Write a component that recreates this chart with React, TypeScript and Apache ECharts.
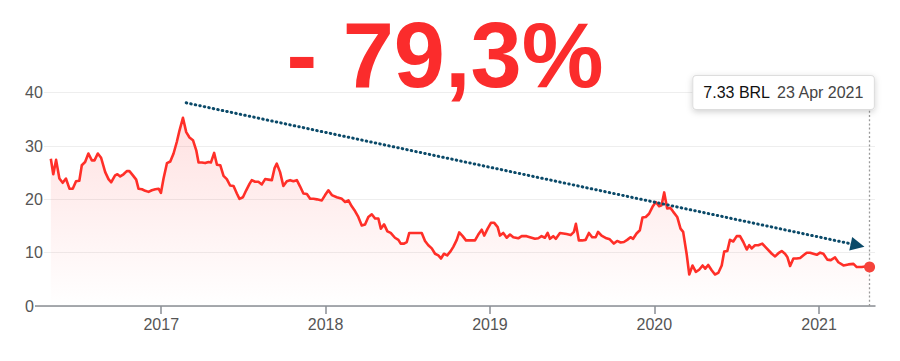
import React, { useEffect, useRef } from "react";
import * as echarts from "echarts";

// x positions as decimal years
const years = [
  2016.330, 2016.345, 2016.362, 2016.382, 2016.402, 2016.422, 2016.443, 2016.463, 2016.483, 2016.503,
  2016.518, 2016.538, 2016.558, 2016.579, 2016.595, 2016.615, 2016.635, 2016.660, 2016.680, 2016.696,
  2016.720, 2016.734, 2016.751, 2016.771, 2016.791, 2016.807, 2016.828, 2016.848, 2016.862, 2016.883,
  2016.903, 2016.923, 2016.943, 2016.964, 2016.984, 2016.998, 2017.014, 2017.035, 2017.055, 2017.075,
  2017.095, 2017.111, 2017.132, 2017.152, 2017.172, 2017.193, 2017.213, 2017.227, 2017.247, 2017.267,
  2017.288, 2017.302, 2017.322, 2017.339, 2017.359, 2017.379, 2017.399, 2017.419, 2017.440, 2017.460,
  2017.476, 2017.497, 2017.517, 2017.537, 2017.551, 2017.571, 2017.591, 2017.612, 2017.632, 2017.652,
  2017.673, 2017.689, 2017.703, 2017.723, 2017.743, 2017.764, 2017.784, 2017.804, 2017.825, 2017.845,
  2017.865, 2017.886, 2017.906, 2017.926, 2017.947, 2017.977, 2017.997, 2018.017, 2018.038, 2018.068,
  2018.099, 2018.119, 2018.139, 2018.159, 2018.179, 2018.199, 2018.220, 2018.240, 2018.260, 2018.281,
  2018.301, 2018.321, 2018.336, 2018.356, 2018.376, 2018.396, 2018.422, 2018.443, 2018.457, 2018.477,
  2018.494, 2018.509, 2018.534, 2018.554, 2018.585, 2018.605, 2018.625, 2018.646, 2018.666, 2018.686,
  2018.702, 2018.720, 2018.740, 2018.761, 2018.777, 2018.798, 2018.813, 2018.834, 2018.854, 2018.878,
  2018.909, 2018.929, 2018.950, 2018.965, 2018.986, 2019.006, 2019.026, 2019.047, 2019.061, 2019.081,
  2019.102, 2019.122, 2019.142, 2019.172, 2019.193, 2019.223, 2019.243, 2019.274, 2019.294, 2019.314,
  2019.334, 2019.351, 2019.365, 2019.385, 2019.401, 2019.426, 2019.446, 2019.466, 2019.491, 2019.511,
  2019.523, 2019.541, 2019.561, 2019.582, 2019.602, 2019.622, 2019.643, 2019.658, 2019.679, 2019.709,
  2019.729, 2019.754, 2019.774, 2019.795, 2019.815, 2019.835, 2019.855, 2019.871, 2019.892, 2019.912,
  2019.928, 2019.948, 2019.968, 2019.989, 2020.009, 2020.029, 2020.044, 2020.060, 2020.078, 2020.098,
  2020.114, 2020.139, 2020.159, 2020.175, 2020.196, 2020.212, 2020.232, 2020.252, 2020.272, 2020.293,
  2020.309, 2020.327, 2020.348, 2020.368, 2020.388, 2020.409, 2020.424, 2020.443, 2020.459, 2020.479,
  2020.500, 2020.520, 2020.540, 2020.561, 2020.576, 2020.591, 2020.611, 2020.631, 2020.655, 2020.682,
  2020.713, 2020.733, 2020.753, 2020.773, 2020.793, 2020.807, 2020.824, 2020.844, 2020.864, 2020.885,
  2020.905, 2020.925, 2020.945, 2020.965, 2020.986, 2021.006, 2021.026, 2021.050, 2021.071, 2021.097,
  2021.117, 2021.148, 2021.178, 2021.209, 2021.229, 2021.260, 2021.280, 2021.307,
];

// price in BRL
const prices = [
  27.6, 24.7, 27.4, 23.9, 23.1, 23.9, 22.0, 22.0, 23.4, 23.5,
  26.4, 27.0, 28.6, 27.3, 27.3, 28.6, 27.8, 25.1, 23.8, 23.2,
  24.5, 24.7, 24.3, 24.7, 25.3, 25.3, 24.5, 23.7, 22.0, 21.9,
  21.6, 21.4, 21.7, 21.9, 22.0, 21.2, 23.9, 26.8, 27.1, 28.6,
  30.8, 32.9, 35.3, 32.6, 31.6, 31.1, 29.2, 26.9, 26.9, 26.8,
  27.0, 26.9, 28.7, 26.5, 26.4, 24.4, 23.8, 22.6, 22.5, 21.1,
  20.1, 20.4, 21.7, 22.9, 23.6, 23.3, 23.3, 22.8, 23.8, 23.7,
  23.6, 25.8, 26.7, 25.1, 22.5, 23.4, 23.6, 23.4, 23.6, 22.4,
  21.1, 21.0, 20.1, 20.1, 20.0, 19.8, 20.8, 21.7, 20.8, 20.4,
  20.1, 19.5, 19.8, 18.7, 17.8, 16.7, 15.1, 15.3, 16.7, 17.2,
  16.4, 16.4, 14.5, 15.3, 14.0, 13.7, 12.8, 12.4, 11.7, 11.7,
  12.0, 13.7, 13.7, 13.7, 13.7, 12.2, 11.4, 10.8, 9.8, 9.5,
  8.9, 9.8, 9.5, 10.3, 11.1, 12.4, 13.8, 13.1, 12.3, 12.3,
  12.3, 13.4, 14.3, 13.2, 14.5, 15.6, 15.6, 14.8, 13.2, 13.7,
  12.8, 13.4, 12.9, 12.7, 13.1, 13.1, 12.9, 12.6, 12.7, 13.1,
  12.8, 13.7, 12.6, 13.1, 12.6, 13.7, 13.6, 13.5, 13.3, 13.9,
  15.4, 12.3, 12.3, 12.4, 13.7, 12.9, 12.9, 13.9, 13.2, 12.7,
  12.5, 11.7, 12.2, 11.9, 12.0, 12.4, 12.9, 12.6, 13.6, 14.2,
  16.6, 16.7, 17.3, 18.6, 19.5, 18.7, 18.9, 21.3, 18.3, 18.4,
  17.7, 16.7, 14.5, 13.9, 9.8, 5.9, 7.6, 6.4, 6.8, 7.6,
  7.0, 7.7, 6.7, 5.9, 6.2, 7.6, 10.2, 10.3, 12.4, 12.1,
  13.1, 13.1, 12.0, 10.6, 11.4, 10.8, 11.4, 11.4, 11.7, 10.8,
  9.8, 9.3, 9.9, 10.3, 9.8, 9.2, 7.5, 8.9, 8.9, 9.0,
  9.5, 10.0, 10.0, 9.8, 9.6, 10.0, 9.8, 8.7, 8.6, 9.1,
  8.2, 7.6, 7.8, 7.9, 7.3, 7.3, 7.4, 7.33,
];

const yTicks = [0, 10, 20, 30, 40];
const headline = "- 79,3%";
const currency = "BRL";
const lastDateLabel = "23 Apr 2021";
// dotted trend arrow: [decimal year, price] at start and end
const trendStart = [2017.152, 38.1];
const trendEnd = [2021.234, 11.4];
const xRange = [2016.234, 2021.34];

const toTime = (t: number) => {
  const y = Math.floor(t);
  const a = new Date(y, 0, 1).getTime();
  const b = new Date(y + 1, 0, 1).getTime();
  return a + (t - y) * (b - a);
};

const FONT = "'Liberation Sans', Arial, Helvetica, sans-serif";

export default function App() {
  const ref = useRef<HTMLDivElement>(null);

  useEffect(() => {
    document.body.style.margin = "0";
    if (!ref.current) return;
    const chart = echarts.init(ref.current, undefined, { renderer: "svg" });
    const data = years.map((t, i) => [toTime(t), prices[i]]);
    const last = data[data.length - 1];

    chart.setOption({
      animation: false,
      backgroundColor: "#ffffff",
      textStyle: { fontFamily: FONT },
      grid: { left: 35, right: 25, top: 92.7, bottom: 55, containLabel: false },
      graphic: [
        {
          type: "text",
          z: 100,
          style: {
            text: headline,
            x: 445,
            y: 55,
            align: "center",
            verticalAlign: "middle",
            fontSize: 92,
            fontWeight: "bold",
            fontFamily: FONT,
            fill: "#fb2c2c",
          },
        },
      ],
      xAxis: {
        type: "time",
        min: toTime(xRange[0]),
        max: toTime(xRange[1]),
        splitNumber: 5,
        minInterval: 365 * 24 * 3600 * 1000,
        axisLine: { show: true, lineStyle: { color: "#8a8e94", width: 1.5 } },
        axisTick: { show: true, length: 8, lineStyle: { color: "#8a8e94", width: 1.5 } },
        axisLabel: {
          formatter: "{yyyy}",
          color: "#555555",
          fontSize: 16,
          margin: 10,
          fontFamily: FONT,
          hideOverlap: false,
        },
        splitLine: { show: false },
      },
      yAxis: {
        type: "value",
        min: yTicks[0],
        max: yTicks[yTicks.length - 1],
        interval: 10,
        axisLine: { show: false },
        axisTick: { show: false },
        axisLabel: {
          color: "#555555",
          fontSize: 16,
          align: "left",
          margin: 10,
          fontFamily: FONT,
          backgroundColor: "#ffffff",
          padding: [0, 1, 0, 0],
        },
        splitLine: { lineStyle: { color: "#eeeeee", width: 1 } },
      },
      series: [
        {
          type: "line",
          data,
          showSymbol: false,
          symbol: "none",
          z: 3,
          lineStyle: { color: "#ff2f28", width: 2.6, join: "round" },
          areaStyle: {
            color: new echarts.graphic.LinearGradient(0, 0, 0, 1, [
              { offset: 0, color: "rgba(255,60,60,0.22)" },
              { offset: 1, color: "rgba(255,60,60,0.0)" },
            ]),
          },
          markPoint: {
            z: 20,
            silent: true,
            data: [
              {
                coord: last,
                symbol: "circle",
                symbolSize: 11,
                itemStyle: { color: "#f5433b" },
                label: {
                  show: true,
                  position: "inside",
                  offset: [-86, -174.5],
                  formatter: `{v|${(last[1] as number).toFixed(2)} ${currency}}  {d|${lastDateLabel}}`,
                  backgroundColor: "#ffffff",
                  borderColor: "#dddddd",
                  borderWidth: 1,
                  borderRadius: 3,
                  padding: [9, 10, 8, 10],
                  shadowBlur: 6,
                  shadowColor: "rgba(0,0,0,0.18)",
                  shadowOffsetY: 2,
                  rich: {
                    v: { color: "#111111", fontSize: 16, fontFamily: FONT },
                    d: { color: "#444444", fontSize: 16, fontFamily: FONT },
                  },
                },
              },
            ],
          },
          markLine: {
            z: 2,
            silent: true,
            symbol: ["none", "none"],
            label: { show: false },
            lineStyle: { color: "#9a9a9a", width: 1.3, type: [2, 2.2] },
            data: [{ xAxis: last[0] }],
          },
        },
        {
          type: "line",
          data: [],
          z: 6,
          markLine: {
            z: 6,
            silent: true,
            symbol: ["none", "triangle"],
            symbolSize: [14, 14],
            label: { show: false },
            lineStyle: { color: "#0b4a69", width: 3, type: [0.5, 4.1], cap: "round" },
            itemStyle: { color: "#0b4a69" },
            data: [
              [
                { coord: [toTime(trendStart[0]), trendStart[1]], symbol: "none" },
                { coord: [toTime(trendEnd[0]), trendEnd[1]], symbol: "triangle" },
              ],
            ],
          },
        },
      ],
    });

    return () => chart.dispose();
  }, []);

  return (
    <div
      ref={ref}
      style={{ position: "fixed", left: 0, top: 0, width: 900, height: 361 }}
    />
  );
}
